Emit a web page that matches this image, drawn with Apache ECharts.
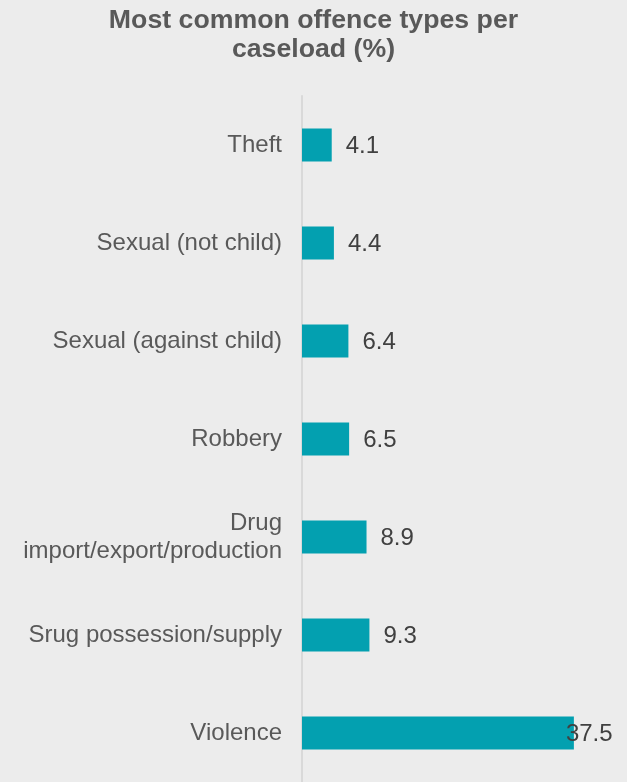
<!DOCTYPE html>
<html>
<head>
<meta charset="utf-8">
<script src="https://cdn.jsdelivr.net/npm/echarts@6/dist/echarts.min.js"></script>
<style>
html,body{margin:0;padding:0;background:#ececec;}
#chart{width:627px;height:782px;}
</style>
</head>
<body>
<div id="chart"></div>
<script>
const categories = ["Theft", "Sexual (not child)", "Sexual (against child)", "Robbery", "Drug\nimport/export/production", "Srug possession/supply", "Violence"];
const values = [4.1, 4.4, 6.4, 6.5, 8.9, 9.3, 37.5];
const titleText = "Most common offence types per\ncaseload (%)";

const chart = echarts.init(document.getElementById('chart'));
const maxVal = Math.max(...values);
const seriesData = values.map(v => v === maxVal ? {value: v, label: {offset: [-22, 1]}} : v);

chart.setOption({
  backgroundColor: '#ececec',
  animation: false,
  title: {
    text: titleText,
    left: 'center',
    top: 1,
    textStyle: {
      fontFamily: 'Liberation Sans, Arial, sans-serif',
      fontSize: 26.7,
      fontWeight: 'bold',
      color: '#595959',
      lineHeight: 29
    }
  },
  grid: {left: 302, top: 96, width: 290, height: 694, containLabel: false},
  xAxis: {
    type: 'value',
    min: 0,
    max: 40,
    show: false
  },
  yAxis: {
    type: 'category',
    data: categories,
    inverse: true,
    axisLine: {show: true, lineStyle: {color: '#d9d9d9', width: 2}},
    axisTick: {show: false},
    axisLabel: {
      margin: 20,
      fontFamily: 'Liberation Sans, Arial, sans-serif',
      fontSize: 24,
      color: '#595959',
      lineHeight: 28,
      align: 'right',
      padding: [2, 0, 0, 0]
    },
    splitLine: {show: false}
  },
  series: [{
    type: 'bar',
    data: seriesData,
    barWidth: 33,
    itemStyle: {color: '#03a0b0'},
    label: {
      show: true,
      position: 'right',
      distance: 14,
      fontFamily: 'Liberation Sans, Arial, sans-serif',
      fontSize: 24,
      color: '#404040',
      offset: [0, 1]
    }
  }]
});
</script>
</body>
</html>
